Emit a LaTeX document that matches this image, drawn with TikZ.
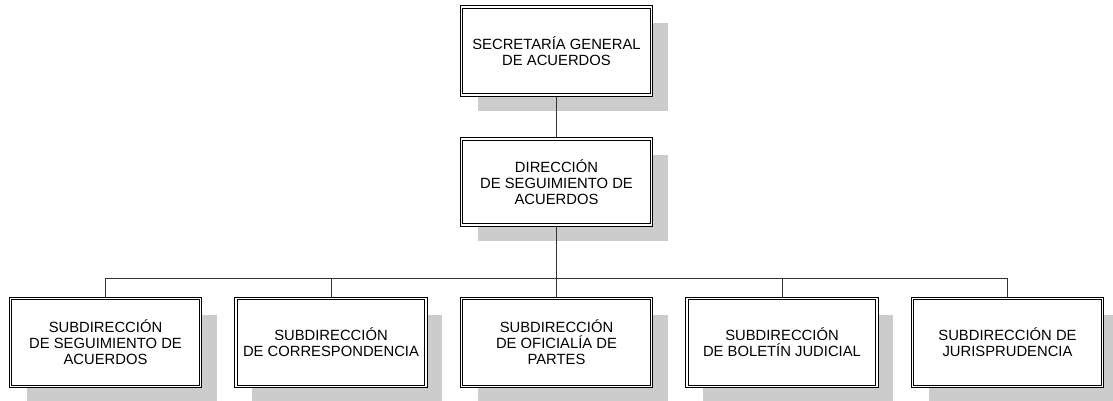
\documentclass[tikz,border=0pt]{standalone}
\usepackage{fontspec}
\setmainfont{Liberation Sans}
\usetikzlibrary{shadows}
\tikzset{
	office node/.style={rectangle, draw=black, fill=white, double, double distance=1.6pt,
		line width=0.9pt, outer sep=1.7pt, minimum width=190pt, minimum height=88pt,
		inner sep=0pt, align=center, font=\fontsize{14.8}{16}\selectfont,
		drop shadow={shadow xshift=16pt, shadow yshift=-16pt, fill=black!20, opacity=1}},
	link/.style={draw=black!80, line width=1pt},
}

\begin{document}
\begin{tikzpicture}[x=1pt, y=-1pt, grow=down,
	edge from parent/.style={link},
	level 1/.style={level distance=131pt},
	level 2/.style={sibling distance=225.5pt, level distance=160.5pt,
		edge from parent path={(\tikzparentnode.south) -- ++(0,-52pt) -| (\tikzchildnode.north)}}]
\useasboundingbox (0,0) rectangle (1113,400);

              \node[office node] (sga) at (556.5,51) {SECRETAR\'IA GENERAL\\DE ACUERDOS}
                child{node[office node, minimum height=86pt] (dsa) {DIRECCI\'ON\\DE SEGUIMIENTO DE\\ACUERDOS}
                  child{node[office node] (ssa) {SUBDIRECCI\'ON\\DE SEGUIMIENTO DE\\ACUERDOS}}
                  child{node[office node] (sco) {SUBDIRECCI\'ON\\DE CORRESPONDENCIA}}
                  child{node[office node] (sop) {SUBDIRECCI\'ON\\DE OFICIAL\'IA DE\\PARTES}}
                  child{node[office node] (sbj) {SUBDIRECCI\'ON\\DE BOLET\'IN JUDICIAL}}
                  child{node[office node] (sju) {SUBDIRECCI\'ON DE\\JURISPRUDENCIA}}
                };

\end{tikzpicture}
\end{document}
